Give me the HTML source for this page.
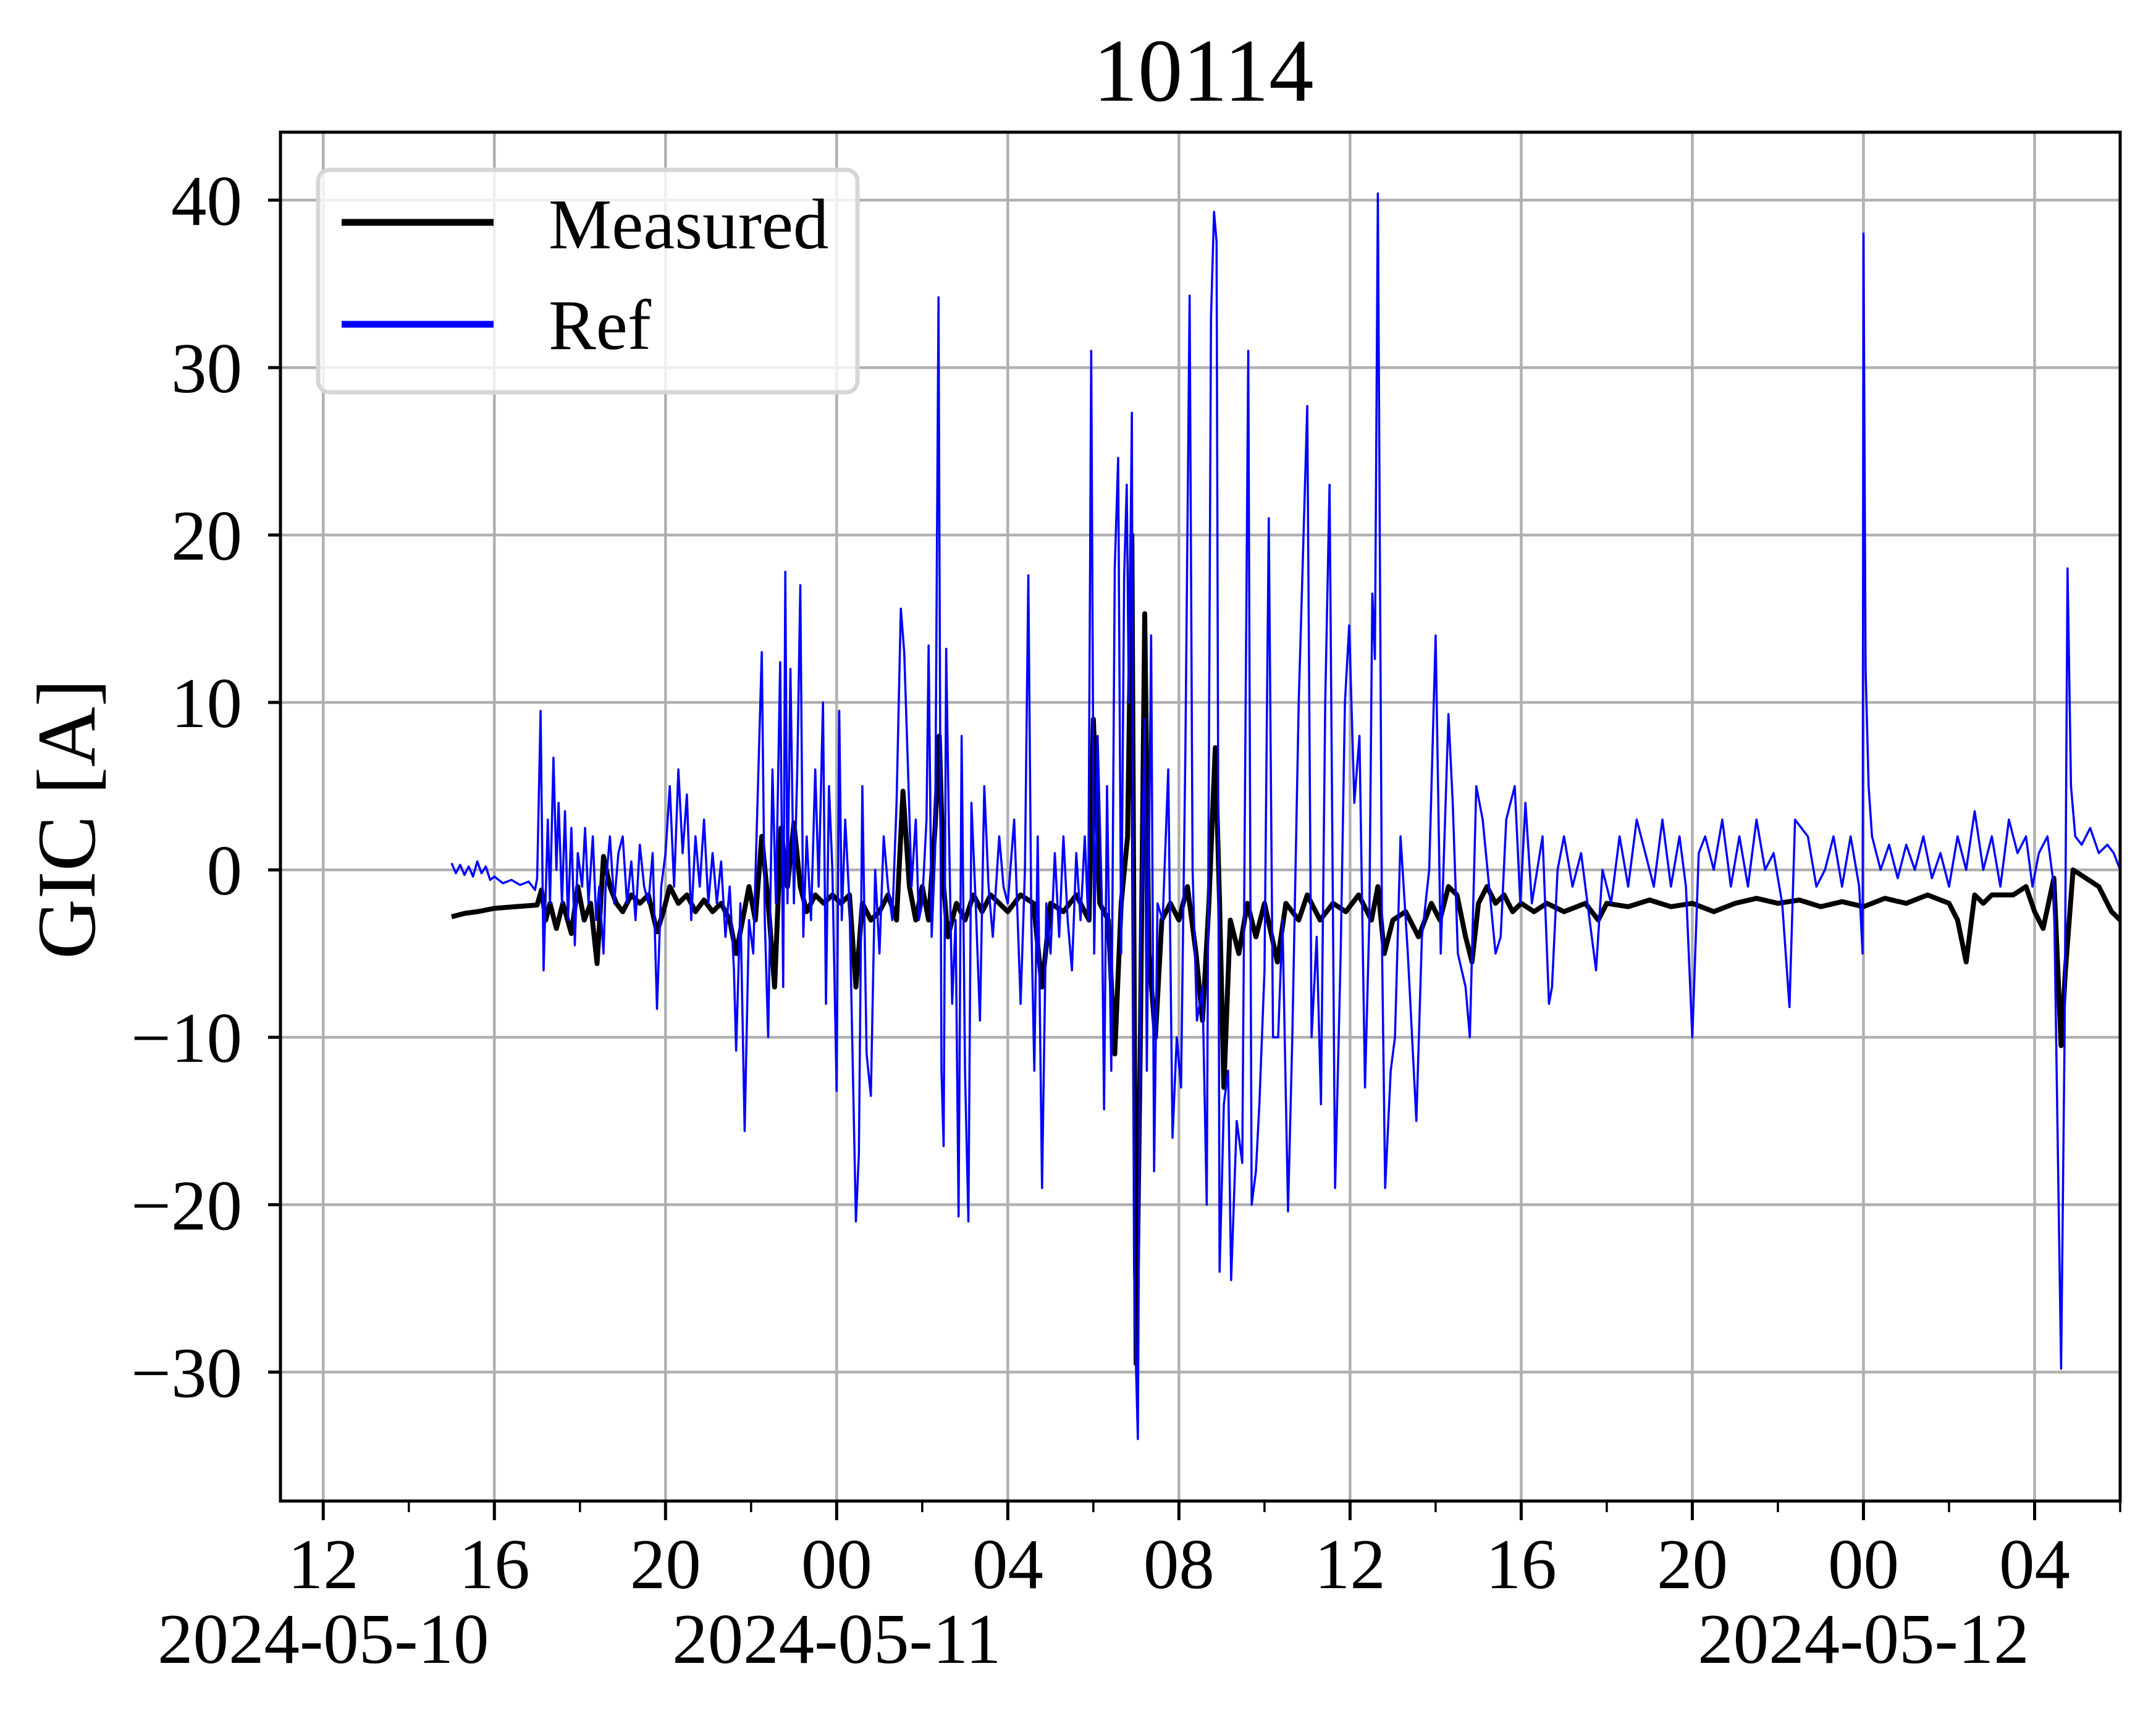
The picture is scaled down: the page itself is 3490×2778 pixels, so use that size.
<!DOCTYPE html>
<html><head><meta charset="utf-8"><style>
html,body{margin:0;padding:0;background:#fff;}
svg{display:block;font-family:"Liberation Serif","Times New Roman",serif;}
</style></head><body>
<svg id="chart" width="3490" height="2778" viewBox="0 0 3490 2778" xmlns="http://www.w3.org/2000/svg">
<rect x="0" y="0" width="3490" height="2778" fill="#fff"/>
<g id="grid"></g>
<g id="plot"></g>
<g id="axes"></g>
<text x="1948" y="163" font-size="145" text-anchor="middle">10114</text>
<text transform="translate(153,1326) rotate(-90)" font-size="135" text-anchor="middle">GIC [A]</text>
<g>
<rect x="515" y="275" width="873" height="360" rx="18" fill="#fff" fill-opacity="0.8" stroke="#d6d6d6" stroke-width="7"/>
<line x1="553" y1="360" x2="799" y2="360" stroke="#000" stroke-width="11"/>
<text x="888" y="402" font-size="115">Measured</text>
<line x1="553" y1="525" x2="799" y2="525" stroke="#0000ff" stroke-width="11"/>
<text x="888" y="565" font-size="115">Ref</text>
</g>
</svg>
<script>
// hours since 2024-05-10 00:00
const refTimes = [15.0,15.1,15.2,15.3,15.4,15.5,15.6,15.7,15.8,15.9,16.0,16.2,16.4,16.6,16.8,16.95,17.0,
17.08,17.15,17.25,17.3,17.38,17.45,17.5,17.58,17.65,17.72,17.8,17.88,17.95,18.05,18.12,18.2,18.3,18.38,18.45,18.55,18.6,18.7,18.8,18.9,19.0,19.1,19.2,19.3,19.4,19.5,19.6,19.7,19.8,19.9,20.0,20.1,20.2,20.3,20.4,20.5,20.6,20.7,20.8,20.9,21.0,21.1,21.2,21.3,21.4,21.5,21.6,21.65,21.75,21.85,21.95,22.05,22.15,22.25,22.32,22.4,22.5,22.58,22.68,22.75,22.8,22.85,22.92,23.0,23.08,23.15,23.22,23.3,23.4,23.5,23.58,23.68,23.75,23.82,23.9,24.0,24.06,24.12,24.2,24.3,24.45,24.52,24.6,24.7,24.8,24.9,25.0,25.1,25.2,25.3,25.4,25.5,25.58,25.68,25.75,25.85,25.92,26.0,26.1,26.15,26.22,26.3,26.38,26.45,26.5,26.56,26.62,26.7,26.78,26.85,26.92,27.0,27.08,27.15,27.25,27.35,27.45,27.55,27.65,27.8,27.9,28.0,28.15,28.3,28.4,28.48,28.55,28.62,28.7,28.8,28.9,29.0,29.1,29.2,29.3,29.4,29.5,29.6,29.7,29.8,29.88,29.95,30.02,30.1,30.2,30.25,30.32,30.42,30.5,30.58,30.65,30.72,30.78,30.83,30.9,30.95,31.0,31.04,31.1,31.2,31.25,31.35,31.42,31.5,31.62,31.75,31.85,31.95,32.05,32.15,32.25,32.32,32.42,32.55,32.65,32.75,32.82,32.88,32.95,33.05,33.15,33.22,33.35,33.48,33.62,33.7,33.8,33.88,34.0,34.1,34.2,34.32,34.42,34.55,34.65,34.8,35.0,35.1,35.22,35.32,35.42,35.52,35.65,35.78,35.88,35.98,36.1,36.22,36.35,36.45,36.52,36.58,36.65,36.75,36.82,36.95,37.05,37.18,37.35,37.55,37.68,37.85,38.0,38.12,38.3,38.4,38.52,38.7,38.8,38.95,39.1,39.25,39.4,39.52,39.65,39.85,39.98,40.1,40.25,40.5,40.65,40.72,40.85,41.0,41.2,41.4,41.6,41.75,41.9,42.1,42.3,42.5,42.7,42.9,43.1,43.3,43.5,43.7,43.85,44.0,44.15,44.3,44.5,44.7,44.9,45.1,45.3,45.5,45.7,45.9,46.1,46.27,46.4,46.7,46.9,47.1,47.3,47.5,47.7,47.9,47.98,48.0,48.05,48.12,48.2,48.4,48.6,48.8,49.0,49.2,49.4,49.6,49.8,50.0,50.2,50.4,50.6,50.8,51.0,51.2,51.4,51.6,51.8,51.95,52.1,52.3,52.45,52.62,52.7,52.77,52.85,52.95,53.1,53.3,53.5,53.7,53.85,54.0];
const refValues = [0.4,-0.2,0.3,-0.3,0.2,-0.4,0.5,-0.2,0.2,-0.6,-0.4,-0.8,-0.6,-0.9,-0.7,-1.2,-0.5,
9.5,-6,3,-2,6.7,0,4,-2,3.5,-3,2.5,-4.5,1,-1,2.5,-2,2,-3,-1,-5,-1,2,-2,1,2,-2,0.5,-3,1.5,-1,-2,1,-8.3,-1,1,5,-1,6,1,4.5,-3,2,-1,3,-2,1,-2,0.5,-4,-1,-6,-10.8,-2,-15.6,-3,-5,4,13,-3,-10,6,-2,12.4,-7,17.8,-2,12,-2,6,17,-4,2,-3,6,-1,10,-8,5,0,-13.2,9.5,-3,3,-2,-21,-17,5,-11,-13.5,0,-5,2,-1,-3,4,15.6,13,5,-1,3,-3,-2,3,13.4,-4,1,34.2,-12,-16.5,13.2,3,-8,-3,-20.7,8,-12,-21,4,-2,-9,5,-1,-4,2,-1,-2,3,-8,0,17.6,-3,-12,2,-19,-2,-5,1,-4,2,-3,-6,1,-3,2,-3,31,-5,8,-2,-14.3,5,-12,18,24.6,-5,17.5,23,10,27.3,-23.7,-30,-34,-5,9,-12,14,-18,-2,-3,6,-16,-10,-13,7,34.3,0,-9,-7,-20,33,39.3,37.5,-24,-14,-12,-24.5,-15,-17.5,31,-20,-18,-14,-6,21,-10,-10,-3,-20.4,-10,10,27.7,-10,-4,-14,10,23,-19,-5,10,14.6,4,8,-13,-3,16.5,12.6,40.4,-5,-19,-12,-10,2,-5,-15,-4,0,14,-5,9.3,4,-5,-7,-10,5,3,-1,-5,-4,3,5,-2,4,-2,2,-8,-7,0,2,-1,1,-3,-6,0,-2,2,-1,3,1,-1,3,-1,2,-1,-10,1,2,0,3,-1,2,-1,3,0,1,-2,-8.2,3,2,-1,0,2,-1,2,-1,-5,38,12,5,2,0,1.5,-0.5,1.5,0,2,-0.5,1,-1,2,0,3.5,0,2,-1,3,1,2,-1,1,2,-1,-29.8,-10,18,5,2,1.5,2.5,1,1.5,1,0,-0.5];
const measTimes = [15.0,15.3,15.6,16.0,16.5,17.0,17.1,17.2,17.3,17.45,17.6,17.8,17.95,18.1,18.25,18.4,18.55,18.7,18.85,19.0,19.2,19.4,19.6,19.8,19.95,20.1,20.3,20.5,20.7,20.9,21.1,21.3,21.5,21.65,21.8,21.95,22.1,22.25,22.4,22.55,22.7,22.85,23.0,23.15,23.3,23.5,23.7,23.9,24.1,24.3,24.45,24.6,24.8,25.0,25.2,25.4,25.55,25.7,25.85,26.0,26.15,26.3,26.4,26.5,26.6,26.8,27.0,27.2,27.4,27.6,27.8,28.0,28.3,28.6,28.8,29.0,29.3,29.6,29.9,30.0,30.15,30.35,30.5,30.65,30.8,30.9,31.0,31.1,31.2,31.3,31.45,31.6,31.8,32.0,32.2,32.4,32.55,32.7,32.85,32.95,33.05,33.2,33.4,33.6,33.8,34.0,34.3,34.5,34.8,35.0,35.3,35.6,35.9,36.2,36.5,36.65,36.8,37.0,37.3,37.6,37.9,38.1,38.3,38.5,38.7,38.85,39.0,39.2,39.4,39.6,39.8,40.0,40.3,40.6,41.0,41.5,41.8,42.0,42.5,43.0,43.5,44.0,44.5,45.0,45.5,46.0,46.5,47.0,47.5,48.0,48.5,49.0,49.5,50.0,50.2,50.4,50.6,50.8,51.0,51.5,51.8,52.0,52.2,52.45,52.62,52.72,52.9,53.2,53.5,53.8,54.0];
const measValues = [-2.8,-2.6,-2.5,-2.3,-2.2,-2.1,-1.2,-3,-2,-3.5,-2,-3.8,-1,-3,-2,-5.6,0.8,-1,-2,-2.5,-1.5,-2,-1.5,-3.7,-2.5,-1,-2,-1.5,-2.5,-1.8,-2.5,-2,-3,-5,-3,-1,-3,2,-2,-7,2.5,-1,2.8,-1,-2.5,-1.5,-2,-1.5,-2,-1.5,-7,-2,-3,-2.5,-1.5,-3,4.7,-1,-3,-1,-3,2.5,8,-1,-4,-2,-3,-1.5,-2.5,-1.5,-2,-2.5,-1.5,-2,-7,-2,-2.5,-1.5,-3,9,-2,-3,-11,-2,2,20,-29.5,-10,15.3,-5,-10,-3,-2,-3,-1,-5,-9,-2,7.3,-2,-13,-3,-5,-2,-4,-2,-5.5,-2,-3,-1.5,-3,-2,-2.5,-1.5,-3,-1,-5,-3,-2.5,-4,-2,-3,-1,-1.5,-4,-5.5,-2,-1,-2,-1.5,-2.5,-2,-2.5,-2,-2.5,-2,-3,-2,-2.2,-1.8,-2.2,-2,-2.5,-2,-1.7,-2,-1.8,-2.2,-1.9,-2.2,-1.7,-2,-1.5,-2,-3,-5.5,-1.5,-2,-1.5,-1.5,-1,-2.5,-3.5,-0.5,-10.5,-6,0,-0.5,-1,-2.5,-3];
const yTicks = [-30,-20,-10,0,10,20,30,40];
const yTickLabels = ["\u221230","\u221220","\u221210","0","10","20","30","40"];
const xTicks = [12,16,20,24,28,32,36,40,44,48,52];
const xTickLabels = ["12","16","20","00","04","08","12","16","20","00","04"];
const dateTicks = [12,24,48];
const dateLabels = ["2024-05-10","2024-05-11","2024-05-12"];

const L=454,R=3432,T=214,B=2430, XMIN=11, XMAX=54, YMIN=-37.7, YMAX=44.06;
function xs(h){return L+(h-XMIN)/(XMAX-XMIN)*(R-L);}
function ys(v){return B-(v-YMIN)/(YMAX-YMIN)*(B-T);}
const NS="http://www.w3.org/2000/svg";
function mk(tag,attrs,parent){const e=document.createElementNS(NS,tag);for(const k in attrs)e.setAttribute(k,attrs[k]);parent.appendChild(e);return e;}
const grid=document.getElementById('grid'),plot=document.getElementById('plot'),axes=document.getElementById('axes');
yTicks.forEach((v,i)=>{
  const g=mk('line',{x1:L,x2:R,y1:ys(v),y2:ys(v),stroke:'#b0b0b0','stroke-width':4.5},grid);
  
  
  const t=mk('line',{x1:L-20,x2:L,y1:ys(v),y2:ys(v),stroke:'#000','stroke-width':5},axes);
  
  
  const tx=mk('text',{x:392,y:ys(v)+40,'font-size':115,'text-anchor':'end'},axes);
  tx.textContent=yTickLabels[i];
  
  
});
xTicks.forEach((h,i)=>{
  const g=mk('line',{x1:xs(h),x2:xs(h),y1:T,y2:B,stroke:'#b0b0b0','stroke-width':4.5},grid);
  
  
  const t=mk('line',{x1:xs(h),x2:xs(h),y1:B,y2:B+31,stroke:'#000','stroke-width':5},axes);
  
  
  const tx=mk('text',{x:xs(h),y:2571,'font-size':115,'text-anchor':'middle'},axes);
  tx.textContent=xTickLabels[i];
  
  
});
for(let h=14;h<=54;h+=4){
  const t=mk('line',{x1:xs(h),x2:xs(h),y1:B,y2:B+18,stroke:'#000','stroke-width':3.5},axes);
  
  
}
dateTicks.forEach((h,i)=>{
  const tx=mk('text',{x:xs(h),y:2692,'font-size':115,'text-anchor':'middle'},axes);
  tx.textContent=dateLabels[i];
  
  
});
function path(ts,vs){return ts.map((t,i)=>(i?'L':'M')+xs(t).toFixed(1)+' '+ys(vs[i]).toFixed(1)).join(' ');}
const cp=mk('clipPath',{id:'clip'},plot);
mk('rect',{x:L,y:T,width:R-L,height:B-T},cp);
const m=mk('path',{d:path(measTimes,measValues),fill:'none',stroke:'#000','stroke-width':8,'stroke-linejoin':'round','clip-path':'url(#clip)'},plot);


const r=mk('path',{d:path(refTimes,refValues),fill:'none',stroke:'#0000ff','stroke-width':3.5,'stroke-linejoin':'round','clip-path':'url(#clip)'},plot);


const fr=mk('rect',{x:L,y:T,width:R-L,height:B-T,fill:'none',stroke:'#000','stroke-width':5},axes);


</script>
</body></html>
